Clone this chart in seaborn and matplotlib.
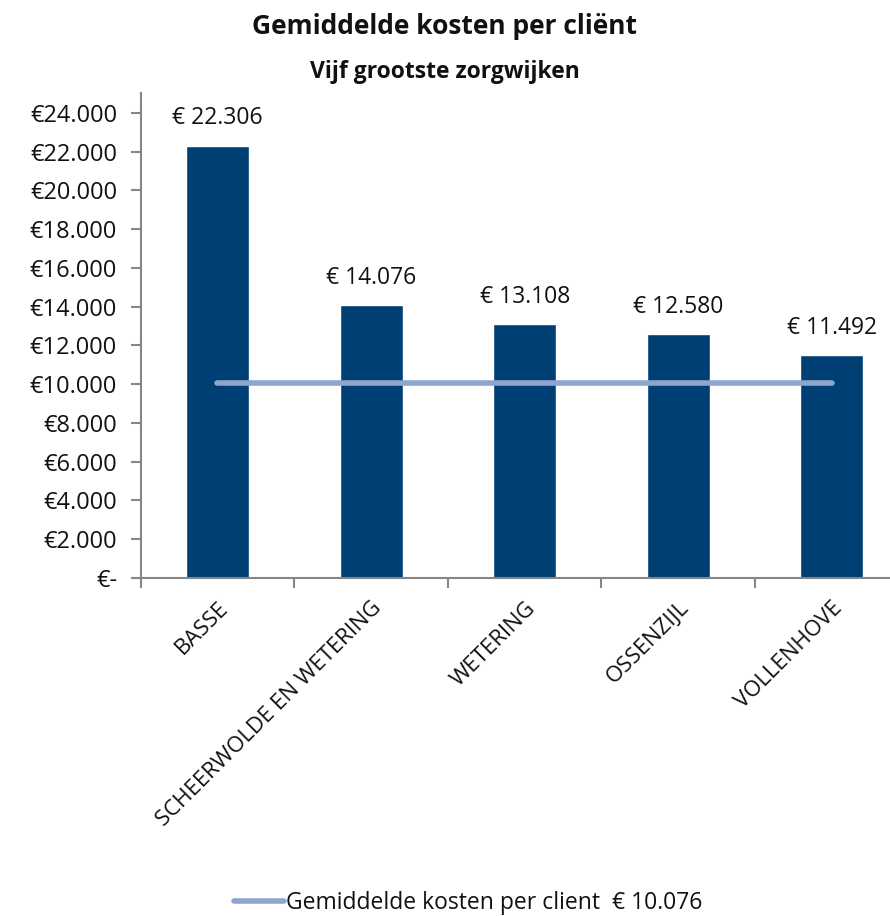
import pandas as pd
import matplotlib
matplotlib.use("Agg")
import matplotlib.pyplot as plt
import seaborn as sns

# data
wijken = ["BASSE", "SCHEERWOLDE EN WETERING", "WETERING", "OSSENZIJL", "VOLLENHOVE"]
kosten = [22306, 14076, 13108, 12580, 11492]
gemiddelde = 10076
y_ticks = list(range(0, 24001, 2000))


def euro(v):
    return f"{v:,.0f}".replace(",", ".")


def tick_label(v):
    return "€-" if v == 0 else "€" + euro(v)


df = pd.DataFrame({"wijk": wijken, "kosten": kosten})

sns.set_theme(style="white")
plt.rcParams["font.family"] = ["Open Sans", "DejaVu Sans"]

bar_color = "#003F73"
line_color = "#8EA6CE"
axis_color = "#868686"
text_color = "#111111"

fig = plt.figure(figsize=(8.9, 9.16), dpi=100)
ax = fig.add_axes([0.158, 0.369, 0.863, 0.529])

sns.barplot(
    data=df,
    x="wijk",
    y="kosten",
    color=bar_color,
    width=0.41,
    saturation=1,
    ax=ax
)

# average line across the bar centres
ax.plot(
    range(len(wijken)),
    [gemiddelde] * len(wijken),
    color=line_color,
    linewidth=4,
    solid_capstyle="round",
    label=f"Gemiddelde kosten per client  € {euro(gemiddelde)}"
)

ax.bar_label(
    ax.containers[0],
    labels=[f"€ {euro(v)}" for v in kosten],
    padding=11,
    fontsize=16.5,
    color=text_color
)

ax.set_xlim(-0.5, len(wijken) - 0.5)
ax.set_ylim(0, 25000)
ax.set_yticks(y_ticks)
ax.set_yticklabels([tick_label(v) for v in y_ticks], fontsize=17,
                   color=text_color)
ax.set_xticks([i - 0.5 for i in range(len(wijken) + 1)], minor=False)
ax.set_xticklabels([])
ax.set_xticks(range(len(wijken)), minor=True)
ax.set_xticklabels(wijken, minor=True, rotation=45, ha="right",
                   rotation_mode="anchor", fontsize=16, color=text_color)
ax.tick_params(axis="x", which="minor", length=0, pad=14)
ax.tick_params(axis="x", which="major", length=7, width=1.5,
               color=axis_color, direction="out", bottom=True)
ax.tick_params(axis="y", length=7, width=1.5, color=axis_color,
               direction="out", left=True, pad=10)
ax.set_xlabel("")
ax.set_ylabel("")

for side in ["top", "right"]:
    ax.spines[side].set_visible(False)
for side in ["left", "bottom"]:
    ax.spines[side].set_color(axis_color)
    ax.spines[side].set_linewidth(1.5)

fig.text(0.5, 0.971, "Gemiddelde kosten per cliënt", ha="center",
         va="center", fontsize=19, fontweight="bold", color=text_color)
fig.text(0.5, 0.921, "Vijf grootste zorgwijken", ha="center",
         va="center", fontsize=16.5, fontweight="bold", color=text_color)

fig.legend(
    loc="center",
    bbox_to_anchor=(0.526, 0.014),
    frameon=False,
    fontsize=16.5,
    handlelength=2.2,
    handletextpad=0.1,
    labelcolor=text_color
)

fig.savefig("out.png", dpi=100)
